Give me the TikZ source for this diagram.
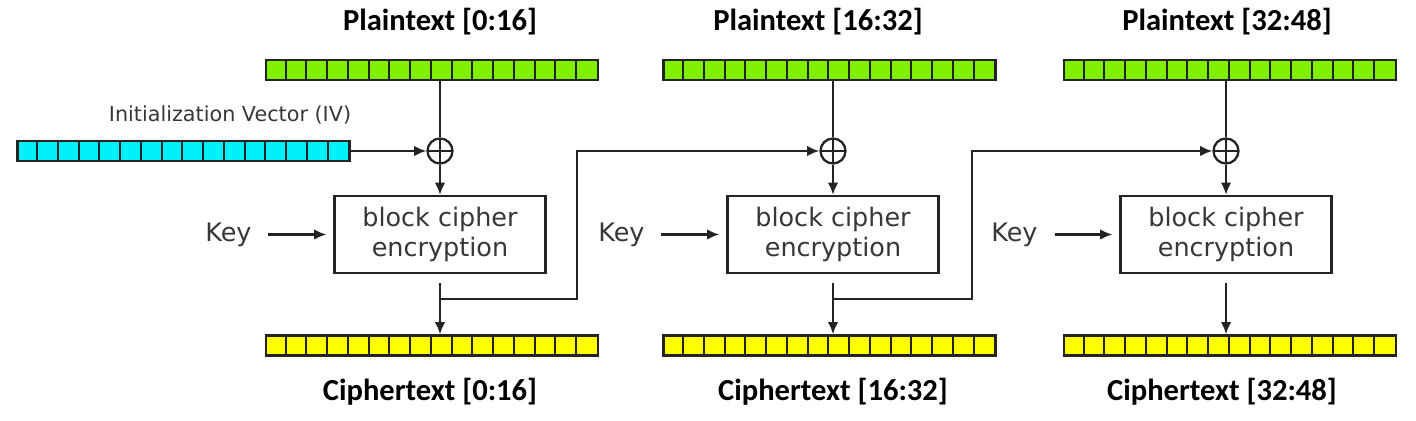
\documentclass[tikz,border=0pt]{standalone}
\usepackage{fontspec}
\setmainfont{DejaVu Sans}
\newfontfamily\titlefont{Carlito}
\usetikzlibrary{arrows.meta,positioning}

\definecolor{ptgreen}{RGB}{128,240,0}
\definecolor{ivcyan}{RGB}{0,240,250}
\definecolor{ctyellow}{RGB}{255,255,0}
\definecolor{linegray}{RGB}{35,35,35}
\definecolor{textgray}{RGB}{55,55,55}

\def\cellw{0.415cm}

% bar of 16 cells: name, x, y, colour
\newcommand{\cellbar}[4]{
    \node[bar, fill=#4] (#1) at (#2,#3) {};
    \foreach \i in {1,...,15}
        \draw[linegray, line width=1.2pt] ([xshift=\i*\cellw]#1.north west) -- ([xshift=\i*\cellw]#1.south west);
}

\begin{document}
\begin{tikzpicture}[x=0.02cm, y=-0.02cm, >={Latex[length=7pt,width=6pt]}, line width=1.3pt, draw=linegray]
    \tikzstyle{bar}=[draw=linegray, line width=1.3pt, minimum width=6.64cm, minimum height=0.4cm, inner sep=0pt]
    \tikzstyle{xor}=[circle, draw=linegray, minimum size=0.5cm, inner sep=0pt,
        path picture={\draw[linegray] (path picture bounding box.north) -- (path picture bounding box.south)
            (path picture bounding box.west) -- (path picture bounding box.east);}]
    \tikzstyle{cipher}=[draw=linegray, minimum width=4.22cm, minimum height=1.54cm, inner sep=0pt,
        align=center, text=textgray, font=\fontsize{14.5}{17}\selectfont]
    \tikzstyle{label}=[text=textgray, font=\fontsize{14.5}{17}\selectfont]
    \tikzstyle{title}=[font=\titlefont\bfseries\fontsize{17.4}{20}\selectfont]

    \useasboundingbox (0,0) rectangle (1416,421);

    % Input and output bars
    \cellbar{pt1}{432}{70}{ptgreen}
    \cellbar{pt2}{829.5}{70}{ptgreen}
    \cellbar{pt3}{1230}{70}{ptgreen}
    \cellbar{iv}{183.5}{151}{ivcyan}
    \cellbar{ct1}{432}{345.5}{ctyellow}
    \cellbar{ct2}{829.5}{345.5}{ctyellow}
    \cellbar{ct3}{1230}{345.5}{ctyellow}

    % Titles
    \node[title] (tp1) at (440,22) {Plaintext [0:16]};
    \node[title] (tp2) at (818,22) {Plaintext [16:32]};
    \node[title] (tp3) at (1227,22) {Plaintext [32:48]};
    \node[title] (tc1) at (430,392) {Ciphertext [0:16]};
    \node[title] (tc2) at (833,392) {Ciphertext [16:32]};
    \node[title] (tc3) at (1222,392) {Ciphertext [32:48]};
    \node[text=textgray, font=\fontsize{11.8}{14}\selectfont] (ivl) at (230,115) {Initialization Vector (IV)};

    % Xor nodes and ciphers
    \foreach \n / \x in {1/440, 2/833, 3/1226} {
        \node[xor] (x\n) at (\x,151) {};
        \node[cipher] (e\n) at (\x,234.5) {block cipher\\encryption};
        \node[label, left=2.1cm of e\n.west, anchor=center] (k\n) {Key};
        \coordinate (s\n) at (\x,283);
        \coordinate (b\n) at (\x,299);
        \draw[->] (k\n.east) ++(0.2cm,0) -- ++(1.16cm,0);
        \draw[->] (x\n) -- (e\n);
    }

    % Plaintext into xor
    \draw (x1 |- pt1.south) -- (x1.north);
    \draw (x2 |- pt2.south) -- (x2.north);
    \draw (x3 |- pt3.south) -- (x3.north);

    % IV into first xor
    \draw[->] (iv.east) -- (x1.west);

    % Cipher outputs
    \draw[->] (s1) -- (s1 |- ct1.north);
    \draw[->] (s2) -- (s2 |- ct2.north);
    \draw[->] (s3) -- (s3 |- ct3.north);

    % Chaining to the next block
    \draw[->] (b1) -| (577,151) -- (x2.west);
    \draw[->] (b2) -| (972,151) -- (x3.west);
\end{tikzpicture}
\end{document}
